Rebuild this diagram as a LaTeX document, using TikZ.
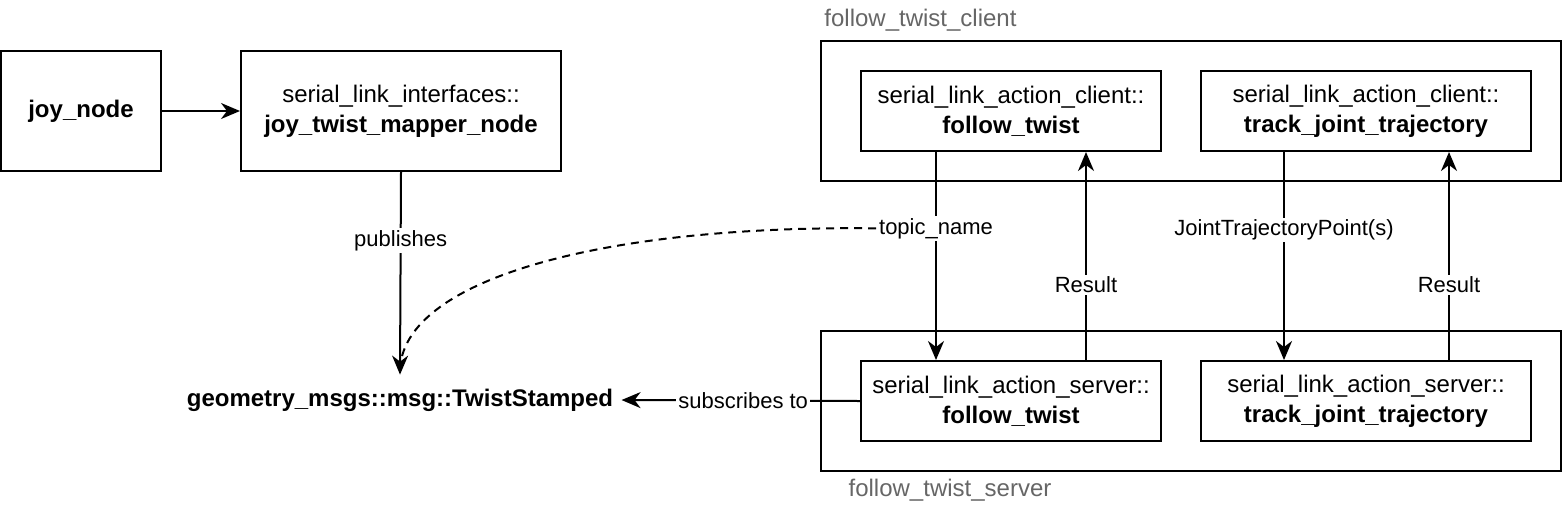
\documentclass[tikz,border=0pt]{standalone}
\usepackage{fontspec}
\setmainfont{Liberation Sans}
\usetikzlibrary{arrows.meta}
\definecolor{grouptext}{HTML}{666666}
\begin{document}
\begin{tikzpicture}[x=0.5pt,y=-0.5pt,
  box/.style={draw, line width=1pt, inner sep=0pt, align=center, font=\fontsize{12}{15}\selectfont},
  grp/.style={draw, line width=1pt, inner sep=0pt, minimum width=370pt, minimum height=70pt},
  lbl/.style={fill=white, inner sep=1pt, font=\fontsize{11}{13}\selectfont},
  glbl/.style={text=grouptext, inner sep=0pt, font=\fontsize{12}{14}\selectfont},
  arr/.style={line width=1pt, -{Stealth[length=9.5pt,width=8pt,inset=3pt]}}]
\useasboundingbox (0,0) rectangle (1562,510);

% groups
\node[grp] (cgrp) at (1191,111) {};
\node[grp] (sgrp) at (1191,401) {};
\node[glbl, anchor=west] (cglbl) at (824,20) {follow\_twist\_client};
\node[glbl] (sglbl) at (950,490) {follow\_twist\_server};

% left nodes
\node[box, minimum width=80pt, minimum height=60pt] (joy) at (81,111) {\textbf{joy\_node}};
\node[box, minimum width=160pt, minimum height=60pt] (map) at (401,111) {serial\_link\_interfaces::\\\textbf{joy\_twist\_mapper\_node}};
\node[inner xsep=4pt, inner ysep=0pt, minimum height=25pt, font=\fontsize{12}{15}\selectfont] (tw) at (400,400) {\textbf{geometry\_msgs::msg::TwistStamped}};

% client nodes
\node[box, minimum width=150pt, minimum height=40pt] (cft) at (1011,111) {serial\_link\_action\_client::\\\textbf{follow\_twist}};
\node[box, minimum width=165pt, minimum height=40pt] (ctj) at (1366,111) {serial\_link\_action\_client::\\\textbf{track\_joint\_trajectory}};
% server nodes
\node[box, minimum width=150pt, minimum height=40pt] (sft) at (1011,401) {serial\_link\_action\_server::\\\textbf{follow\_twist}};
\node[box, minimum width=165pt, minimum height=40pt] (stj) at (1366,401) {serial\_link\_action\_server::\\\textbf{track\_joint\_trajectory}};

\coordinate (xa) at (936,0);
\coordinate (xb) at (1086,0);
\coordinate (xc) at (1284,0);
\coordinate (xd) at (1449,0);

% connectors
\draw[arr] (joy) -- (map);
\draw[arr] (map.south) -- node[lbl, pos=0.338] (pub) {publishes} (tw.north);
\draw[arr] (cft.south -| xa) -- node[lbl, pos=0.367] (tn) {topic\_name} (sft.north -| xa);
\draw[arr] (sft.north -| xb) -- node[lbl, pos=0.362] (r1) {Result} (cft.south -| xb);
\draw[arr] (ctj.south -| xc) -- node[lbl, pos=0.376] (jtp) {JointTrajectoryPoint(s)} (stj.north -| xc);
\draw[arr] (stj.north -| xd) -- node[lbl, pos=0.362] (r2) {Result} (ctj.south -| xd);
\draw[arr] (sft.west) -- node[lbl, pos=0.49] (sub) {subscribes to} (tw.east);
\draw[line width=1pt, dashed, dash pattern=on 4pt off 3pt] (tn.west) .. controls (600,225) and (402,280) .. ([yshift=2pt]tw.north);
\end{tikzpicture}
\end{document}
